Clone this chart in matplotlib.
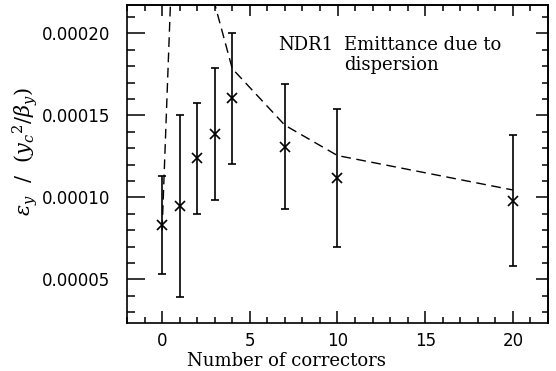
import matplotlib
matplotlib.use("Agg")
import matplotlib.pyplot as plt
from matplotlib.ticker import MultipleLocator, FormatStrFormatter

# Data
n_correctors = [0, 1, 2, 3, 4, 7, 10, 20]
emittance = [8.3e-5, 9.45e-5, 1.238e-4, 1.386e-4, 1.604e-4, 1.31e-4, 1.116e-4, 0.979e-4]
emittance_err = [3.0e-5, 5.55e-5, 3.4e-5, 4.0e-5, 4.0e-5, 3.8e-5, 4.2e-5, 4.0e-5]

curve_x = [0, 1, 2, 3, 4, 7, 10, 20]
curve_y = [8.0e-5, 3.7e-4, 5.0e-4, 2.18e-4, 1.785e-4, 1.44e-4, 1.255e-4, 1.045e-4]

x_ticks = [0, 5, 10, 15, 20]
y_ticks = [0.00005, 0.00010, 0.00015, 0.00020]

plt.rcParams['mathtext.fontset'] = 'dejavuserif'

W, H = 556, 371
L, R, T, B = 127, 548, 5, 323
fig = plt.figure(figsize=(W / 100, H / 100), dpi=100)
ax = fig.add_axes([L / W, 1 - B / H, (R - L) / W, (B - T) / H])


def ax_x(px):
    return (px - L) / (R - L)


def ax_y(py):
    return 1 - (py - T) / (B - T)


ax.plot(curve_x, curve_y, color='black', lw=1.0, dashes=(7, 4))
ax.errorbar(n_correctors, emittance, yerr=emittance_err, fmt='x', color='black',
            ms=7, mew=1.2, elinewidth=1.2, capsize=3, capthick=1.0)

ax.set_xlim(-2, 22)
ax.set_ylim(2.34e-5, 2.173e-4)

ax.set_xticks(x_ticks)
ax.set_yticks(y_ticks)
ax.xaxis.set_minor_locator(MultipleLocator(1))
ax.yaxis.set_minor_locator(MultipleLocator(1e-5))
ax.yaxis.set_major_formatter(FormatStrFormatter('%.5f'))

ax.tick_params(axis='both', which='both', direction='in', top=False, right=False,
               labelsize=12, width=1.1)
ax.tick_params(axis='y', which='major', length=13, pad=12)
ax.tick_params(axis='y', which='minor', length=6)
ax.tick_params(axis='x', which='major', length=9, pad=6.5)
ax.tick_params(axis='x', which='minor', length=4)

secx = ax.secondary_xaxis('top')
secx.set_xticks(x_ticks)
secx.xaxis.set_minor_locator(MultipleLocator(1))
secx.tick_params(axis='x', which='major', direction='in', length=8, labeltop=False, width=1.1)
secx.tick_params(axis='x', which='minor', direction='in', length=4, width=1.1)

secy = ax.secondary_yaxis('right')
secy.set_yticks(y_ticks)
secy.yaxis.set_minor_locator(MultipleLocator(1e-5))
secy.tick_params(axis='y', which='major', direction='in', length=9, labelright=False, width=1.1)
secy.tick_params(axis='y', which='minor', direction='in', length=4, width=1.1)

for s in list(ax.spines.values()) + list(secx.spines.values()) + list(secy.spines.values()):
    s.set_linewidth(1.2)

ax.set_xlabel('Number of correctors', family='DejaVu Serif', fontsize=13)
ax.xaxis.set_label_coords(ax_x(286), ax_y(366), transform=ax.transAxes)
ax.xaxis.label.set_va('baseline')

ax.set_ylabel(r'$\epsilon_y\ \ /\ \ (y_c{}^2/\beta_y)$', fontsize=15)
ax.yaxis.set_label_coords(ax_x(25), ax_y(152), transform=ax.transAxes)
ax.yaxis.label.set_va('center')

ax.text(ax_x(278), ax_y(50), 'NDR1', transform=ax.transAxes,
        family='DejaVu Serif', fontsize=13, ha='left', va='baseline')
ax.text(ax_x(344), ax_y(50), 'Emittance due to', transform=ax.transAxes,
        family='DejaVu Serif', fontsize=13, ha='left', va='baseline')
ax.text(ax_x(344), ax_y(70), 'dispersion', transform=ax.transAxes,
        family='DejaVu Serif', fontsize=13, ha='left', va='baseline')

fig.savefig('out.png', dpi=100)
